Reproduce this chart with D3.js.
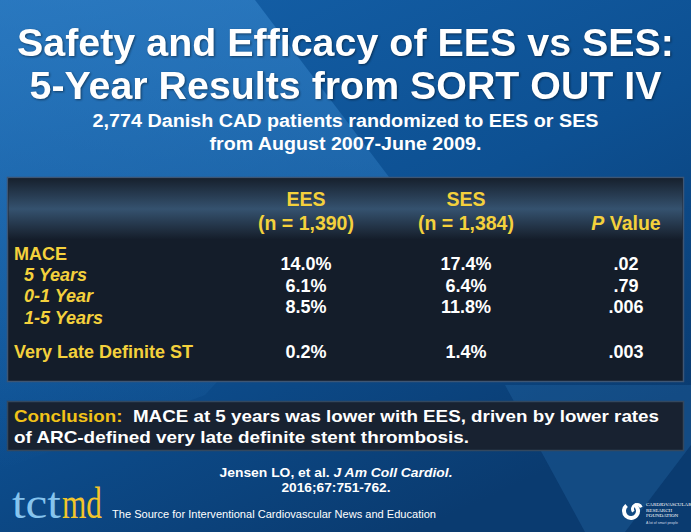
<!DOCTYPE html>
<html><head><meta charset="utf-8">
<script src="https://cdn.jsdelivr.net/npm/d3@7"></script>
<style>html,body{margin:0;padding:0;background:#0d4a8a;}svg{display:block;}</style>
</head><body>
<script>
// ---- data ----
const titleLines = ["Safety and Efficacy of EES vs SES:", "5-Year Results from SORT OUT IV"];
const subtitleLines = ["2,774 Danish CAD patients randomized to EES or SES", "from August 2007-June 2009."];
const columnHeads = ["EES", "SES", "P Value"];
const columnSubs = ["(n = 1,390)", "(n = 1,384)", ""];
const groupLabel = "MACE";
const rowLabels = ["5 Years", "0-1 Year", "1-5 Years", "Very Late Definite ST"];
const eesValues = ["14.0%", "6.1%", "8.5%", "0.2%"];
const sesValues = ["17.4%", "6.4%", "11.8%", "1.4%"];
const pValues = [".02", ".79", ".006", ".003"];
const conclusionLabel = "Conclusion:";
const conclusionLines = ["MACE at 5 years was lower with EES, driven by lower rates", "of ARC-defined very late definite stent thrombosis."];
const citation = ["Jensen LO, et al. ", "J Am Coll Cardiol.", "2016;67:751-762."];
const logoParts = ["tct", "md"];
const tagline = "The Source for Interventional Cardiovascular News and Education";

const W = 691, H = 532;
const FONT = "'Liberation Sans', Arial, Helvetica, sans-serif";
const YEL = "#f4d13c";

const svg = d3.select("body").append("svg").attr("width", W).attr("height", H);
const defs = svg.append("defs");

// background
const bg = defs.append("linearGradient").attr("id", "bg").attr("x1", 0).attr("y1", 0).attr("x2", 0.6).attr("y2", 1);
bg.append("stop").attr("offset", 0).attr("stop-color", "#1562ab");
bg.append("stop").attr("offset", 0.55).attr("stop-color", "#0d5092");
bg.append("stop").attr("offset", 1).attr("stop-color", "#0a3b70");
svg.append("rect").attr("width", W).attr("height", H).attr("fill", "url(#bg)");
const wedge = defs.append("linearGradient").attr("id", "wedge").attr("x1", 0).attr("y1", 0).attr("x2", 0).attr("y2", 1);
wedge.append("stop").attr("offset", 0).attr("stop-color", "#3a8ad0").attr("stop-opacity", 0.55);
wedge.append("stop").attr("offset", 1).attr("stop-color", "#3a8ad0").attr("stop-opacity", 0.0);
svg.append("path").attr("d", "M0,0 L255,0 L395,185 L205,395 L0,470 Z").attr("fill", "url(#wedge)");
svg.append("path").attr("d", "M505,385 L691,385 L691,445 L625,532 L585,532 Z").attr("fill", "#2a6fae").attr("opacity", 0.3);

function fitText(sel, target) {
  const w = sel.node().getComputedTextLength();
  if (w > 0) sel.attr("textLength", target).attr("lengthAdjust", "spacingAndGlyphs");
  return sel;
}

// title
const tY = d3.scaleLinear().domain([0, 1]).range([56, 99]);
titleLines.forEach((t, i) => {
  const s = svg.append("text").attr("x", W / 2).attr("y", tY(i)).attr("text-anchor", "middle")
    .attr("fill", "#fff").attr("font-family", FONT).attr("font-weight", "bold").attr("font-size", 39)
    .style("filter", "drop-shadow(1px 1px 1px rgba(0,0,0,0.45))").text(t);
  fitText(s, i === 0 ? 657 : 632);
});
const sY = d3.scaleLinear().domain([0, 1]).range([127, 150]);
subtitleLines.forEach((t, i) => {
  const s = svg.append("text").attr("x", W / 2).attr("y", sY(i)).attr("text-anchor", "middle")
    .attr("fill", "#fff").attr("font-family", FONT).attr("font-weight", "bold").attr("font-size", 18).text(t);
  fitText(s, i === 0 ? 506 : 272);
});

// table box
const box = { x: 7.5, y: 177.5, w: 676, h: 204 };
svg.append("rect").attr("x", box.x).attr("y", box.y).attr("width", box.w).attr("height", box.h)
  .attr("fill", "#141d2a").attr("stroke", "#3e5674").attr("stroke-width", 1.5);
const hg = defs.append("linearGradient").attr("id", "hg").attr("x1", 0).attr("y1", 0).attr("x2", 0).attr("y2", 1);
hg.append("stop").attr("offset", 0).attr("stop-color", "#17212e");
hg.append("stop").attr("offset", 0.5).attr("stop-color", "#35526f");
hg.append("stop").attr("offset", 0.88).attr("stop-color", "#1d2a3a");
hg.append("stop").attr("offset", 1).attr("stop-color", "#141d2a");
svg.append("rect").attr("x", box.x + 1).attr("y", box.y + 1).attr("width", box.w - 2).attr("height", 61).attr("fill", "url(#hg)");

const colX = d3.scalePoint().domain(columnHeads).range([306, 626]).padding(0);
const headG = svg.append("g").attr("font-family", FONT).attr("font-weight", "bold").attr("font-size", 19.5).attr("fill", YEL).attr("text-anchor", "middle");
columnHeads.forEach((c, i) => {
  if (columnSubs[i]) {
    headG.append("text").attr("x", colX(c)).attr("y", 206).text(c);
    headG.append("text").attr("x", colX(c)).attr("y", 230).text(columnSubs[i]);
  } else {
    const t = headG.append("text").attr("x", colX(c)).attr("y", 230);
    t.append("tspan").attr("font-style", "italic").text(c.split(" ")[0]);
    t.append("tspan").text(" " + c.split(" ").slice(1).join(" "));
  }
});

// rows
const slot = [0, 1, 2, 4.1];
const rowY = d3.scaleLinear().domain([0, 1]).range([270, 291.5]);
const lab = svg.append("g").attr("font-family", FONT).attr("font-weight", "bold").attr("font-size", 18).attr("fill", YEL);
lab.append("text").attr("x", 14).attr("y", rowY(0) - 10.5).text(groupLabel);
rowLabels.forEach((r, i) => {
  const last = i === rowLabels.length - 1;
  lab.append("text").attr("x", last ? 14 : 24).attr("y", last ? rowY(slot[i]) : rowY(slot[i]) + 10.5)
    .attr("font-style", last ? "normal" : "italic").text(r);
});
const valG = svg.append("g").attr("font-family", FONT).attr("font-weight", "bold").attr("font-size", 18).attr("fill", "#fff").attr("text-anchor", "middle");
[eesValues, sesValues, pValues].forEach((vals, ci) => {
  vals.forEach((v, i) => {
    valG.append("text").attr("x", colX(columnHeads[ci])).attr("y", rowY(slot[i])).text(v);
  });
});

// conclusion box
svg.append("rect").attr("x", 7.5).attr("y", 401.5).attr("width", 676).attr("height", 49)
  .attr("fill", "#182231").attr("stroke", "#33485f").attr("stroke-width", 1.5);
const cg = svg.append("g").attr("font-family", FONT).attr("font-weight", "bold").attr("font-size", 17).attr("fill", "#fff");
const c1 = cg.append("text").attr("x", 14).attr("y", 422);
c1.append("tspan").attr("fill", "#f2c318").text(conclusionLabel);
c1.append("tspan").text("\u00a0\u00a0" + conclusionLines[0]);
fitText(c1, 645);
const c2 = cg.append("text").attr("x", 14).attr("y", 443).text(conclusionLines[1]);
fitText(c2, 455);

// citation
const cit = svg.append("g").attr("font-family", FONT).attr("font-weight", "bold").attr("font-size", 13).attr("fill", "#fff").attr("text-anchor", "middle");
const ct = cit.append("text").attr("x", 336).attr("y", 477);
ct.append("tspan").text(citation[0]);
ct.append("tspan").attr("font-style", "italic").text(citation[1]);
fitText(ct, 233);
const ct2 = cit.append("text").attr("x", 336).attr("y", 491.5).text(citation[2]);
fitText(ct2, 109);

// tctmd logo
const lg = svg.append("g").attr("font-family", "'Liberation Serif', 'DejaVu Serif', serif").attr("font-size", 44);
fitText(lg.append("text").attr("x", 12).attr("y", 518).attr("fill", "#86c4ee").text(logoParts[0]), 49);
fitText(lg.append("text").attr("x", 62).attr("y", 518).attr("fill", "#f2c52a").text(logoParts[1]), 40);
const tg = svg.append("text").attr("x", 112).attr("y", 518).attr("font-family", FONT).attr("font-size", 11).attr("fill", "#fff").text(tagline);
fitText(tg, 324);

// CRF logo
const crf = svg.append("g").attr("transform", "translate(631,511)");
crf.append("path").attr("d", d3.arc()({ innerRadius: 5, outerRadius: 9, startAngle: 0.5, endAngle: 5.6 })).attr("fill", "#fff");
crf.append("path").attr("d", d3.arc()({ innerRadius: 3, outerRadius: 6, startAngle: -2.2, endAngle: 1.2 })).attr("fill", "#fff").attr("transform", "translate(6,-2)");
const crfT = ["CARDIOVASCULAR", "RESEARCH", "FOUNDATION"];
crfT.forEach((t, i) => crf.append("text").attr("x", 15).attr("y", -5 + i * 5.5).attr("font-family", "'Liberation Serif', serif").attr("font-size", 5).attr("fill", "#fff").text(t));
crf.append("text").attr("x", 15).attr("y", 13).attr("font-family", FONT).attr("font-size", 3.5).attr("fill", "#cfd8e4").text("A lot of smart people");
</script>
</body></html>
